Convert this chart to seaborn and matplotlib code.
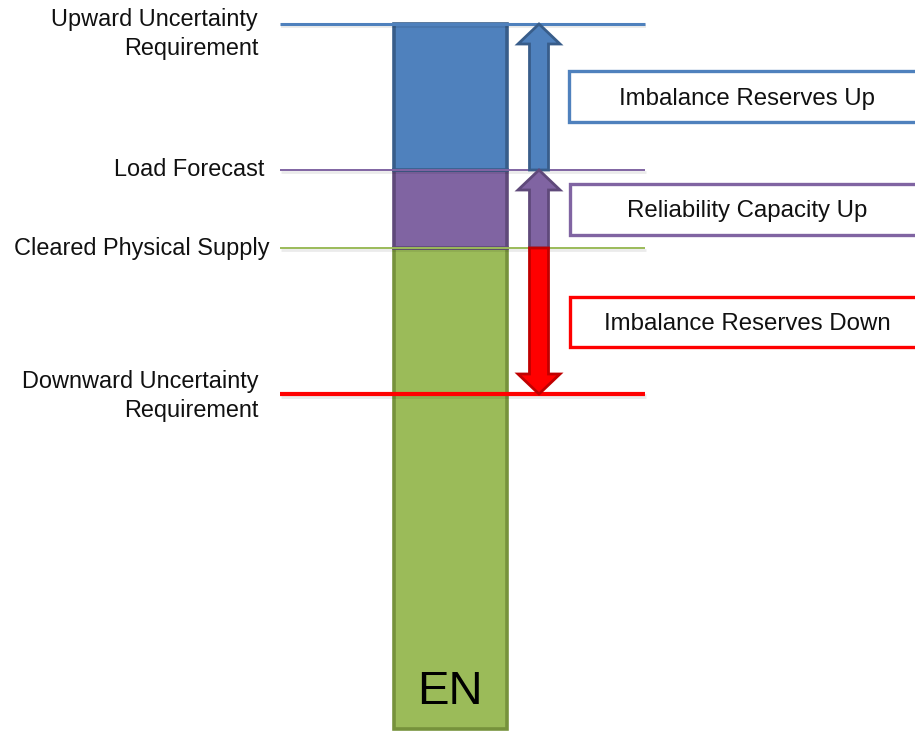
import matplotlib
matplotlib.use("Agg")
import matplotlib.pyplot as plt
from matplotlib.patches import FancyArrow, Rectangle
import seaborn as sns
import pandas as pd

# ---- data (vertical levels, in diagram units measured from the bar base) ----
level_labels = ["Upward Uncertainty\nRequirement", "Load Forecast",
                "Cleared Physical Supply", "Downward Uncertainty\nRequirement"]
level_values = [705, 559, 481, 335]

segment_names = ["Cleared Physical Supply", "Reliability Capacity", "Imbalance Reserves"]
segment_bottoms = [0, 481, 559]
segment_tops = [481, 559, 705]
bar_label = "EN"

reserve_labels = ["Imbalance Reserves Up", "Reliability Capacity Up", "Imbalance Reserves Down"]
reserve_from = [559, 481, 481]
reserve_to = [705, 559, 335]

# ---- styling ----
sns.set_theme(style="white")
plt.rcParams["font.family"] = ["Liberation Sans", "DejaVu Sans"]

BLUE, BLUE_E = "#4F81BD", "#385D8A"
PURP, PURP_E = "#8064A2", "#5F497A"
GREEN, GREEN_E = "#9BBB59", "#76923C"
RED, RED_E = "#FF0000", "#C00000"

fig = plt.figure(figsize=(9.15, 7.31), dpi=100)
ax = fig.add_axes([0, 0, 1, 1])
ax.set_xlim(0, 915)
ax.set_ylim(-2, 729)
ax.axis("off")

# stacked bar
seg_fill = [GREEN, PURP, BLUE]
seg_edge = [GREEN_E, PURP_E, BLUE_E]
bar_x, bar_w = 450.5, 113
for b, t, fc, ec in zip(segment_bottoms, segment_tops, seg_fill, seg_edge):
    ax.bar(bar_x, t - b, bottom=b, width=bar_w, color=fc, edgecolor=ec,
           linewidth=2.6, zorder=2)
ax.text(450, 37, bar_label, fontsize=34, ha="center", va="center", color="black", zorder=5)

# horizontal level lines
line_cols = [BLUE, PURP, GREEN, RED]
line_lw = [2.2, 1.4, 1.4, 3.0]
line_df = pd.DataFrame({
    "x": [280, 645] * 4,
    "y": [v for v in level_values for _ in range(2)],
    "lvl": [l for l in level_labels for _ in range(2)],
})
for lab, col, lw in zip(level_labels, line_cols, line_lw):
    sub = line_df[line_df["lvl"] == lab]
    # faint shadow
    ax.plot(sub["x"] + 1, sub["y"] - 2, color="#000000", alpha=0.08, lw=lw + 0.6,
            zorder=2.5, solid_capstyle="butt")
    sns.lineplot(data=sub, x="x", y="y", color=col, linewidth=lw, ax=ax,
                 legend=False, zorder=3, estimator=None, sort=False)
    ax.lines[-1].set_solid_capstyle("butt")
ax.set_xlabel("")
ax.set_ylabel("")
ax.set_xlim(0, 915)
ax.set_ylim(-2, 729)
ax.axis("off")

# left level labels
label_pos = [(258, 695), (264, 559), (269, 481), (258, 333)]
for lab, (x, y) in zip(level_labels, label_pos):
    ax.text(x, y, lab, ha="right", va="center", fontsize=16.9,
            color="#111111", linespacing=1.34, multialignment="right")

# arrows
arr_fill = [BLUE, PURP, RED]
arr_edge = [BLUE_E, PURP_E, RED_E]
for f, t, fc, ec in zip(reserve_from, reserve_to, arr_fill, arr_edge):
    ax.add_patch(FancyArrow(539, f, 0, t - f, width=19, head_width=42,
                            head_length=20, length_includes_head=True,
                            facecolor=fc, edgecolor=ec, linewidth=2, zorder=4))

# boxes with reserve labels
box_y = [(607, 658), (494, 545), (382, 432)]
box_x0 = [569, 570, 570]
box_cols = [BLUE, PURP, RED]
for lab, (y0, y1), x0, col in zip(reserve_labels, box_y, box_x0, box_cols):
    ax.add_patch(Rectangle((x0, y0), 400, y1 - y0, facecolor="white",
                           edgecolor=col, linewidth=2.4, zorder=3))
    ax.text(747, (y0 + y1) / 2 - 2, lab, ha="center", va="center",
            fontsize=17.3, color="#111111", zorder=5)

fig.savefig("out.png", dpi=100)
